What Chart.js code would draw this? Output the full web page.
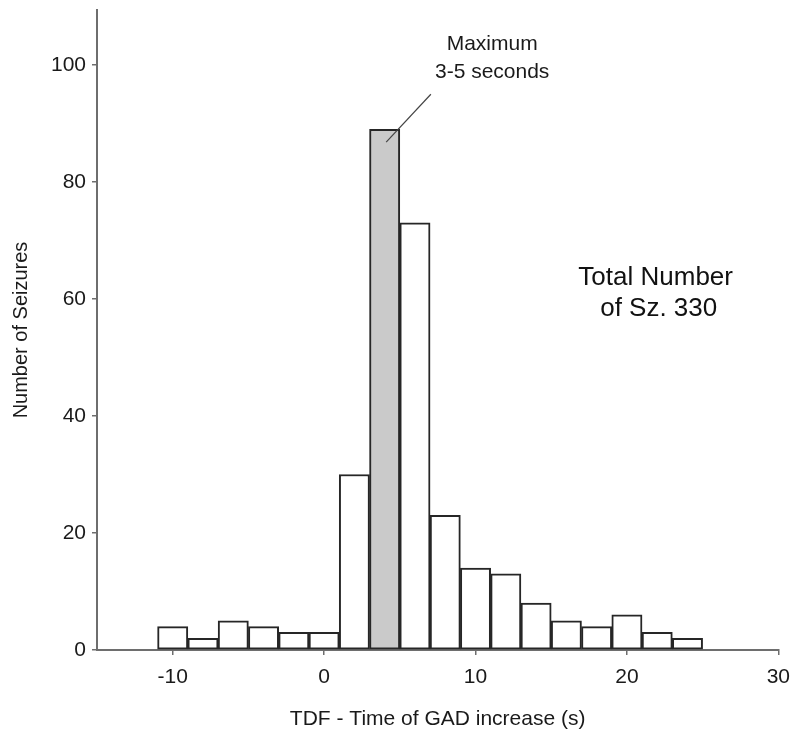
<!DOCTYPE html>
<html>
<head>
<meta charset="utf-8">
<script src="https://cdn.jsdelivr.net/npm/chart.js@4/dist/chart.umd.min.js"></script>
<style>
  html, body { margin: 0; padding: 0; background: #fff; }
  #wrap { width: 800px; height: 741px; }
</style>
</head>
<body>
<div id="wrap"><canvas id="chart" width="800" height="741"></canvas></div>
<script>
// histogram bins, 2 s wide, given by their left edge
const binStarts = [-11, -9, -7, -5, -3, -1, 1, 3, 5, 7, 9, 11, 13, 15, 17, 19, 21, 23];
const counts = [4, 2, 5, 4, 3, 3, 30, 89, 73, 23, 14, 13, 8, 5, 4, 6, 3, 2];
const highlightStart = 3;

const xTicks = [-10, 0, 10, 20, 30];
const yTicks = [0, 20, 40, 60, 80, 100];

const FONT = 'Liberation Sans, Arial, sans-serif';
const AXIS_GREY = '#6e6e6e';
const TEXT = '#1a1a1a';

const binWidth = 2;
const points = binStarts.map((s, i) => ({ x: s + binWidth / 2, y: counts[i] }));
const fills = binStarts.map((s) => (s === highlightStart ? '#cacaca' : '#ffffff'));

// callout and text box, in data units
const callout = {
  lines: ['Maximum', '3-5 seconds'],
  textX: 11.1, textY: [103.6, 98.8],
  from: { x: 7.05, y: 95.0 },
  to: { x: 4.1, y: 86.8 },
};
const totalNote = {
  lines: ['Total Number', 'of Sz. 330'],
  x: [21.9, 22.1], y: [63.7, 58.3],
};

const notesPlugin = {
  id: 'notes',
  afterDatasetsDraw(chart) {
    const { ctx, scales: { x, y } } = chart;
    ctx.save();
    ctx.strokeStyle = '#444';
    ctx.lineWidth = 1.2;
    ctx.beginPath();
    ctx.moveTo(x.getPixelForValue(callout.from.x), y.getPixelForValue(callout.from.y));
    ctx.lineTo(x.getPixelForValue(callout.to.x), y.getPixelForValue(callout.to.y));
    ctx.stroke();

    ctx.fillStyle = TEXT;
    ctx.textAlign = 'center';
    ctx.textBaseline = 'middle';
    ctx.font = '21px ' + FONT;
    callout.lines.forEach((t, i) => {
      ctx.fillText(t, x.getPixelForValue(callout.textX), y.getPixelForValue(callout.textY[i]));
    });

    ctx.font = '26px ' + FONT;
    ctx.fillStyle = '#111';
    totalNote.lines.forEach((t, i) => {
      ctx.fillText(t, x.getPixelForValue(totalNote.x[i]), y.getPixelForValue(totalNote.y[i]));
    });
    ctx.restore();
  }
};

new Chart(document.getElementById('chart'), {
  type: 'bar',
  data: {
    datasets: [{
      data: points,
      backgroundColor: fills,
      borderColor: '#262626',
      borderWidth: 2,
      borderSkipped: false,
      barPercentage: 1,
      categoryPercentage: 1,
    }]
  },
  options: {
    responsive: false,
    animation: false,
    layout: { padding: { top: 10, right: 18, left: 9, bottom: 0 } },
    plugins: {
      legend: { display: false },
      tooltip: { enabled: false },
    },
    scales: {
      x: {
        type: 'linear',
        min: -15,
        max: 30,
        offset: false,
        afterBuildTicks: (scale) => { scale.ticks = xTicks.map((v) => ({ value: v })); },
        afterFit: (scale) => { scale.height = 91; },
        grid: { display: true, offset: false, drawOnChartArea: false, tickLength: 5, color: AXIS_GREY, lineWidth: 1.5 },
        border: { display: true, color: AXIS_GREY, width: 2 },
        ticks: { color: TEXT, font: { family: FONT, size: 21 }, padding: 10, maxRotation: 0 },
        title: {
          display: true,
          text: 'TDF - Time of GAD increase (s)',
          color: TEXT,
          font: { family: FONT, size: 21 },
          padding: { top: 0, bottom: 9 },
        },
      },
      y: {
        min: 0,
        max: 109.4,
        afterBuildTicks: (scale) => { scale.ticks = yTicks.map((v) => ({ value: v })); },
        afterFit: (scale) => {
          scale.width = 88;
          scale.paddingTop = 0;
          scale.paddingBottom = 0;
        },
        grid: { display: true, drawOnChartArea: false, tickLength: 5, color: AXIS_GREY, lineWidth: 1.5 },
        border: { display: true, color: AXIS_GREY, width: 2 },
        ticks: { color: TEXT, font: { family: FONT, size: 21 }, padding: 6 },
        title: {
          display: true,
          text: 'Number of Seizures',
          color: TEXT,
          font: { family: FONT, size: 20 },
          padding: { top: 0, bottom: 0 },
        },
      },
    },
  },
  plugins: [notesPlugin],
});
</script>
</body>
</html>
